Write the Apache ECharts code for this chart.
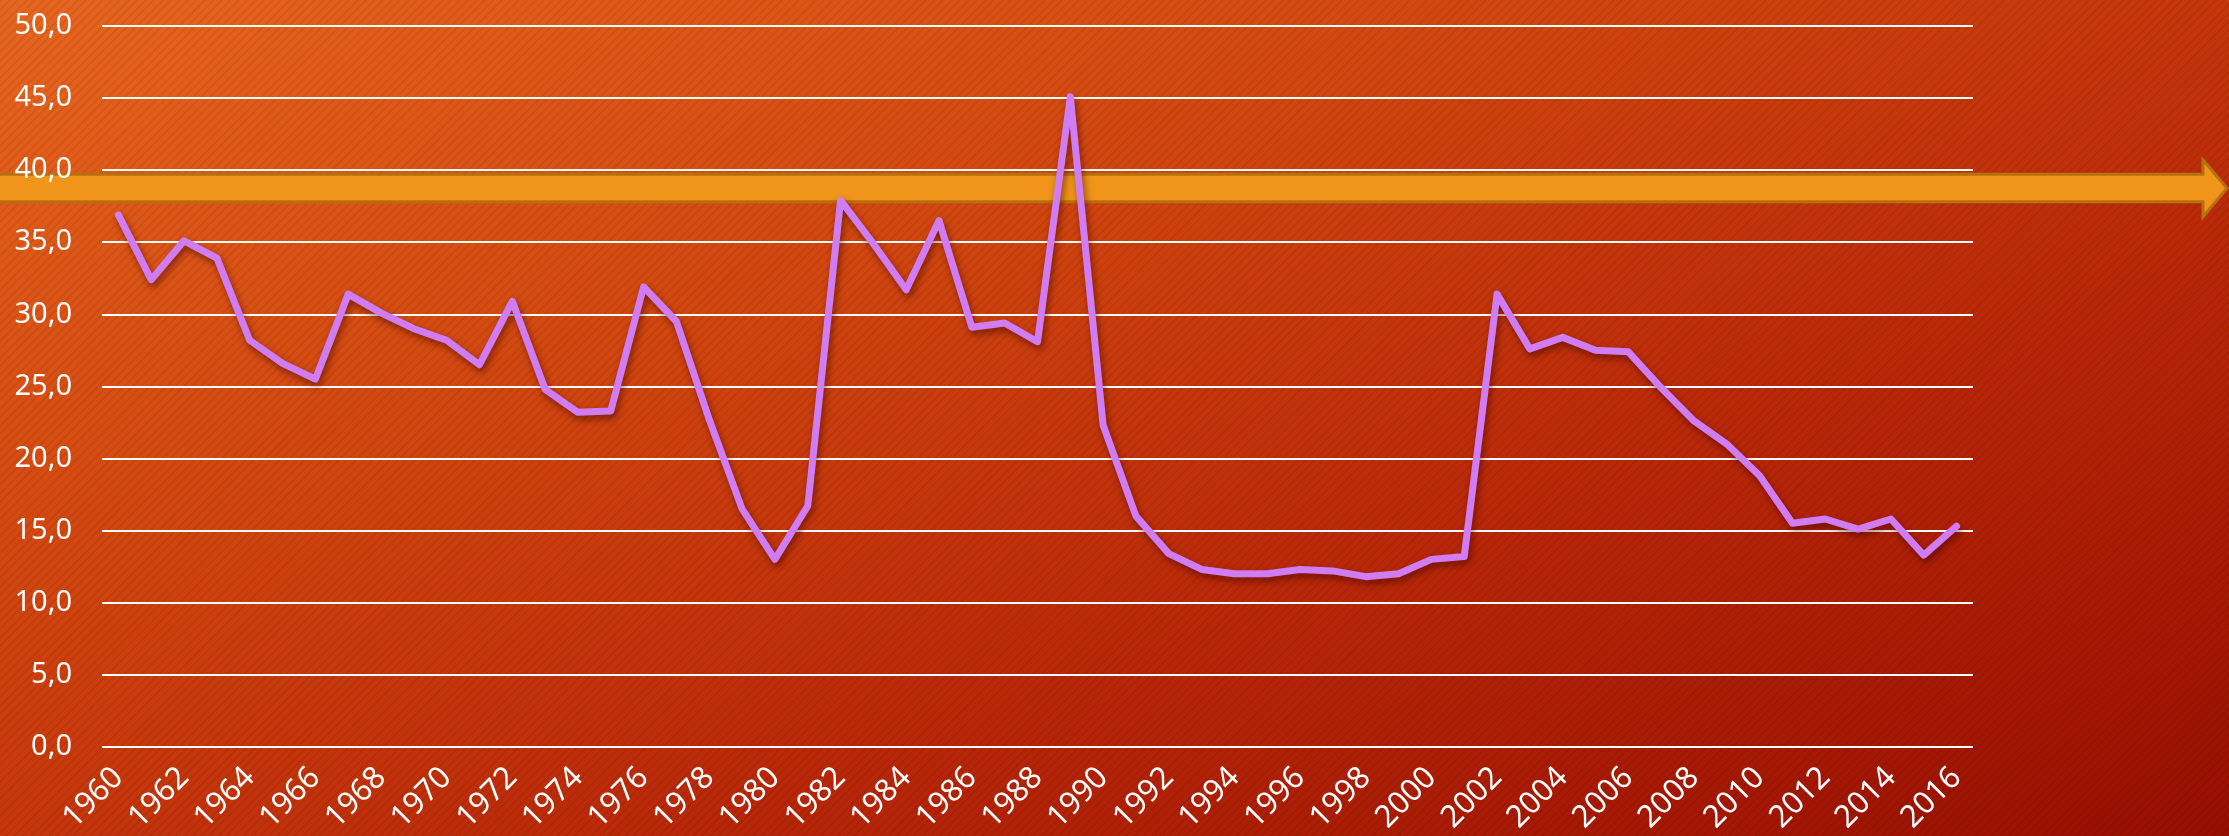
<!DOCTYPE html>
<html>
<head>
<meta charset="utf-8">
<script src="https://cdn.jsdelivr.net/npm/echarts@6/dist/echarts.min.js"></script>
<style>
  html, body { margin: 0; padding: 0; width: 2229px; height: 836px; overflow: hidden; }
  #bg {
    position: absolute; left: 0; top: 0; width: 2229px; height: 836px;
    background: linear-gradient(to bottom right, #E8661F 0%, #D2460F 35%, #B92708 65%, #980E00 100%);
  }
  #stripes {
    position: absolute; left: 0; top: 0; width: 2229px; height: 836px;
    background: repeating-linear-gradient(135deg, rgba(0,0,0,0.07) 0px, rgba(0,0,0,0.07) 2px, rgba(0,0,0,0) 2px, rgba(0,0,0,0) 6px);
  }
  #arrow { position: absolute; left: 0; top: 0; }
  #chart { position: absolute; left: 0; top: 0; width: 2229px; height: 836px; }
</style>
</head>
<body>
<div id="bg"></div>
<div id="stripes"></div>
<svg id="arrow" width="2229" height="836">
  <polygon points="-5,174.2 2203,174.2 2203,159.8 2227,188.2 2203,216.8 2203,201.8 -5,201.8"
           fill="#F0951A" stroke="#B7700E" stroke-width="3" stroke-linejoin="miter"/>
</svg>
<div id="chart"></div>
<script>
// ---- data ----
const years = [
  "1960","1961","1962","1963","1964","1965","1966","1967","1968","1969",
  "1970","1971","1972","1973","1974","1975","1976","1977","1978","1979",
  "1980","1981","1982","1983","1984","1985","1986","1987","1988","1989",
  "1990","1991","1992","1993","1994","1995","1996","1997","1998","1999",
  "2000","2001","2002","2003","2004","2005","2006","2007","2008","2009",
  "2010","2011","2012","2013","2014","2015","2016"
];
const values = [
  36.9, 32.4, 35.1, 33.9, 28.2, 26.6, 25.5, 31.4, 30.1, 29.0,
  28.2, 26.5, 30.9, 24.8, 23.2, 23.3, 31.9, 29.5, 22.7, 16.5,
  13.0, 16.7, 37.9, 34.9, 31.7, 36.5, 29.1, 29.4, 28.1, 45.1,
  22.3, 16.0, 13.4, 12.3, 12.0, 12.0, 12.3, 12.2, 11.8, 12.0,
  13.0, 13.2, 31.4, 27.6, 28.4, 27.5, 27.4, 24.9, 22.6, 21.0,
  18.8, 15.5, 15.8, 15.1, 15.8, 13.3, 15.3
];
const yMin = 0;
const yMax = 50;
const yStep = 5;

const chart = echarts.init(document.getElementById('chart'), null, { renderer: 'canvas' });
chart.setOption({
  backgroundColor: 'transparent',
  animation: false,
  grid: { left: 102, right: 256, top: 26, bottom: 87.5, containLabel: false },
  xAxis: {
    type: 'category',
    data: years,
    boundaryGap: true,
    axisLine: { show: false },
    axisTick: { show: false },
    axisLabel: {
      interval: 1,
      rotate: 45,
      margin: 26,
      color: '#FFFFFF',
      fontFamily: 'Noto Sans',
      fontSize: 31
    },
    splitLine: { show: false }
  },
  yAxis: {
    type: 'value',
    min: yMin,
    max: yMax,
    interval: yStep,
    axisLine: { show: false },
    axisTick: { show: false },
    axisLabel: {
      margin: 30,
      color: '#FFFFFF',
      fontFamily: 'Noto Sans',
      fontSize: 29,
      formatter: v => v.toFixed(1).replace('.', ',')
    },
    splitLine: { show: true, lineStyle: { color: '#FFFFFF', width: 2 } }
  },
  series: [{
    type: 'line',
    data: values,
    symbol: 'none',
    z: 5,
    lineStyle: {
      color: '#D07CF3',
      width: 7,
      cap: 'round',
      join: 'round',
      shadowColor: 'rgba(60,0,0,0.55)',
      shadowBlur: 7,
      shadowOffsetX: 2,
      shadowOffsetY: 4
    }
  }]
});
</script>
</body>
</html>
